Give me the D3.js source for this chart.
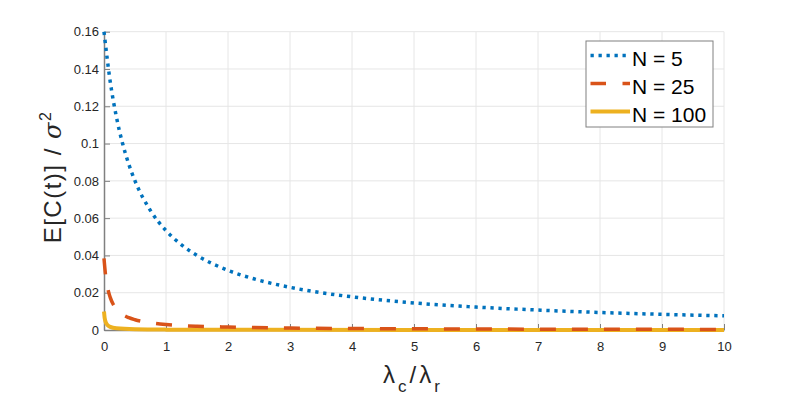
<!DOCTYPE html>
<html><head><meta charset="utf-8">
<script src="https://cdn.jsdelivr.net/npm/d3@7"></script>
<style>body{margin:0;background:#fff}svg{display:block}text{font-family:"Liberation Sans",Arial,Helvetica,sans-serif}</style>
</head><body><svg id="c" width="800" height="400"></svg>
<script>
const xTicks = [0,1,2,3,4,5,6,7,8,9,10];
const yTicks = [0,0.02,0.04,0.06,0.08,0.1,0.12,0.14,0.16];
const yTickLabels = ["0","0.02","0.04","0.06","0.08","0.1","0.12","0.14","0.16"];
const seriesNames = ["N = 5","N = 25","N = 100"];
const x5 = [0,0.1,0.2,0.3,0.4,0.5,0.75,1,1.25,1.5,2,2.5,3,3.5,4,5,6,7,8,9,10];
const y5 = [0.16,0.1333,0.1143,0.1,0.0889,0.08,0.064,0.0533,0.0457,0.04,0.032,0.0267,0.0229,0.02,0.0178,0.0145,0.0123,0.0107,0.0094,0.0084,0.0076];
const x25 = [0,0.025,0.05,0.1,0.15,0.2,0.3,0.4,0.5,0.75,1,1.5,2,3,4,5,6,7,8,9,10];
const y25 = [0.0384,0.0295,0.024,0.0175,0.0137,0.0113,0.0083,0.0066,0.0055,0.0039,0.00295,0.002,0.0016,0.00106,0.0008,0.00064,0.00053,0.00045,0.0004,0.00035,0.00032];
const x100 = [0,0.01,0.02,0.05,0.1,0.2,0.5,1,2,5,10];
const y100 = [0.0099,0.0066,0.005,0.0029,0.0017,0.00091,0.00039,0.0002,0.0001,0.00004,0.00002];

const svg = d3.select("#c");
const L=104, R=724, T=31.7, B=330;
const x = d3.scaleLinear().domain([0,10]).range([L,R]);
const y = d3.scaleLinear().domain([0,0.16]).range([B,T]);

// grid
const g = svg.append("g");
g.selectAll(".gx").data(xTicks.slice(1)).enter().append("line")
  .attr("x1",d=>x(d)).attr("x2",d=>x(d)).attr("y1",B).attr("y2",T)
  .attr("stroke","#e6e6e6").attr("stroke-width",1);
g.selectAll(".gy").data(yTicks.slice(1)).enter().append("line")
  .attr("x1",L).attr("x2",R).attr("y1",d=>y(d)).attr("y2",d=>y(d))
  .attr("stroke","#e6e6e6").attr("stroke-width",1);

// axes
const xAxis = d3.axisBottom(x).tickValues(xTicks).tickSizeInner(-6).tickSizeOuter(0).tickPadding(5).tickFormat(d3.format("d"));
const yAxis = d3.axisLeft(y).tickValues(yTicks).tickSizeInner(-6).tickSizeOuter(0).tickPadding(5).tickFormat((d,i)=>yTickLabels[i]);
const ax = svg.append("g").attr("transform",`translate(0,${B})`).call(xAxis);
const ay = svg.append("g").attr("transform",`translate(${L},0)`).call(yAxis);
[ax,ay].forEach(a=>{
  a.select(".domain").attr("stroke","#808080").attr("stroke-width",1.5);
  a.selectAll(".tick line").attr("stroke","#808080").attr("stroke-width",1);
  a.selectAll(".tick text").attr("fill","#262626").attr("font-size",13).attr("font-family","Liberation Sans, Arial, sans-serif");
});
ax.selectAll(".tick text").attr("dy",null).attr("y",20.5);

// lines
const line = d3.line().x(d=>x(d[0])).y(d=>y(d[1])).curve(d3.curveMonotoneX);
const lg = svg.append("g");
lg.append("path").datum(x100.map((v,i)=>[v,y100[i]])).attr("d",line)
  .attr("fill","none").attr("stroke","#EDB120").attr("stroke-width",4);
lg.append("path").datum(x25.map((v,i)=>[v,y25[i]])).attr("d",line)
  .attr("fill","none").attr("stroke","#D95319").attr("stroke-width",3.5).attr("stroke-dasharray","16,16");
lg.append("path").datum(x5.map((v,i)=>[v,y5[i]])).attr("d",line)
  .attr("fill","none").attr("stroke","#0072BD").attr("stroke-width",3.5).attr("stroke-dasharray","3.3,4.7");

// axis labels
svg.append("text").attr("transform","translate(61,177) rotate(-90)").attr("text-anchor","middle")
  .attr("font-size",24).attr("letter-spacing",1.5).attr("fill","#262626")
  .html('E[C(t)] / <tspan font-style="italic" font-family="DejaVu Serif, serif">σ</tspan><tspan dy="-10" font-size="16">2</tspan>');
svg.append("text").attr("x",413).attr("y",383).attr("text-anchor","middle")
  .attr("font-size",24).attr("letter-spacing",3).attr("fill","#262626")
  .html('λ<tspan dy="9" font-size="17">c</tspan><tspan dy="-9">/λ</tspan><tspan dy="9" font-size="17">r</tspan>');

// legend
const leg = svg.append("g");
leg.append("rect").attr("x",586).attr("y",41).attr("width",127).attr("height",86)
  .attr("fill","#fff").attr("stroke","#808080").attr("stroke-width",1);
const legStyles = [
  {c:"#0072BD",w:3.5,d:"3.3,4.7"},
  {c:"#D95319",w:3.5,d:"15.5,16.5"},
  {c:"#EDB120",w:4,d:null}
];
seriesNames.forEach((n,i)=>{
  const yy = 55.5 + i*28;
  const l = leg.append("line").attr("x1",590.5).attr("x2",630).attr("y1",yy).attr("y2",yy)
    .attr("stroke",legStyles[i].c).attr("stroke-width",legStyles[i].w);
  if(legStyles[i].d) l.attr("stroke-dasharray",legStyles[i].d);
  leg.append("text").attr("x",632).attr("y",yy+10).attr("font-size",21).attr("fill","#000").text(n);
});
</script></body></html>
